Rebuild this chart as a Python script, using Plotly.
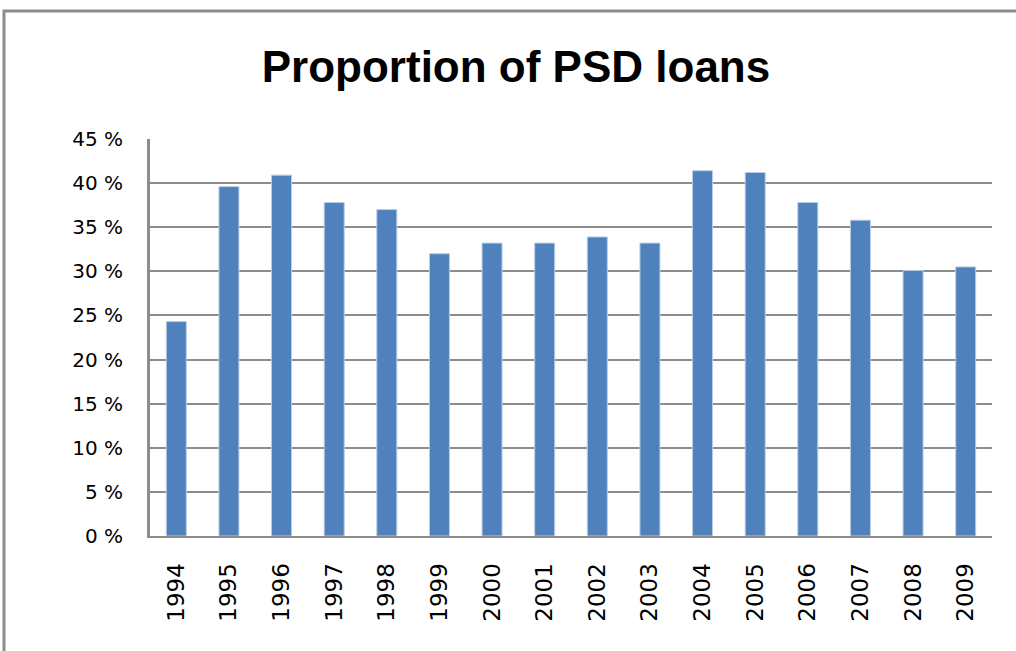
import plotly.graph_objects as go

years = ["1994", "1995", "1996", "1997", "1998", "1999", "2000", "2001",
         "2002", "2003", "2004", "2005", "2006", "2007", "2008", "2009"]
psd_share = [24.3, 39.6, 40.9, 37.8, 37.0, 32.0, 33.2, 33.2,
             33.9, 33.2, 41.4, 41.2, 37.8, 35.8, 30.1, 30.5]
y_ticks = [0, 5, 10, 15, 20, 25, 30, 35, 40, 45]
y_tick_labels = [f"{v} %" for v in y_ticks]
title_text = "Proportion of PSD loans"

W, H = 1016, 651
L, R, T, B = 150, 24, 139, 115
pw, ph = W - L - R, H - T - B

def px_x(p):
    return (p - L) / pw

def px_y(p):
    return (H - B - p) / ph

fig = go.Figure()
fig.add_trace(go.Bar(
    x=years, y=psd_share,
    marker=dict(color="#4F81BD", line=dict(color="#B9CDE5", width=1)),
    hoverinfo="x+y",
))

fig.update_layout(
    width=W, height=H,
    margin=dict(l=L, r=R, t=T, b=B),
    paper_bgcolor="white", plot_bgcolor="white",
    bargap=0.62,
    showlegend=False,
    title=dict(text=title_text, x=516 / W, xanchor="center",
               y=1 - 67 / H, yanchor="middle",
               font=dict(family="Liberation Sans, Arial, sans-serif",
                         size=44, color="black", weight="bold")),
    xaxis=dict(
        type="category", tickangle=-90, showgrid=False,
        showline=True, linecolor="#8C8C8C", linewidth=2,
        ticks="", ticklabelstandoff=16,
        tickfont=dict(family="DejaVu Sans", size=23, color="black"),
    ),
    yaxis=dict(
        range=[0, 45], tickvals=y_ticks, ticktext=y_tick_labels,
        showgrid=True, gridcolor="#8C8C8C", gridwidth=1.5,
        showline=True, linecolor="#8C8C8C", linewidth=3,
        zeroline=False, ticks="", ticklabelstandoff=20,
        tickfont=dict(family="DejaVu Sans", size=20, color="black"),
    ),
    shapes=[dict(type="rect", xref="paper", yref="paper",
                 x0=px_x(4), x1=px_x(1030), y0=px_y(670), y1=px_y(11),
                 line=dict(color="#8C8C8C", width=3), layer="below")],
)

fig.write_html("out.html",
               config={"displayModeBar": False},
               post_script="document.body.style.margin='0';document.body.style.overflow='hidden';")
